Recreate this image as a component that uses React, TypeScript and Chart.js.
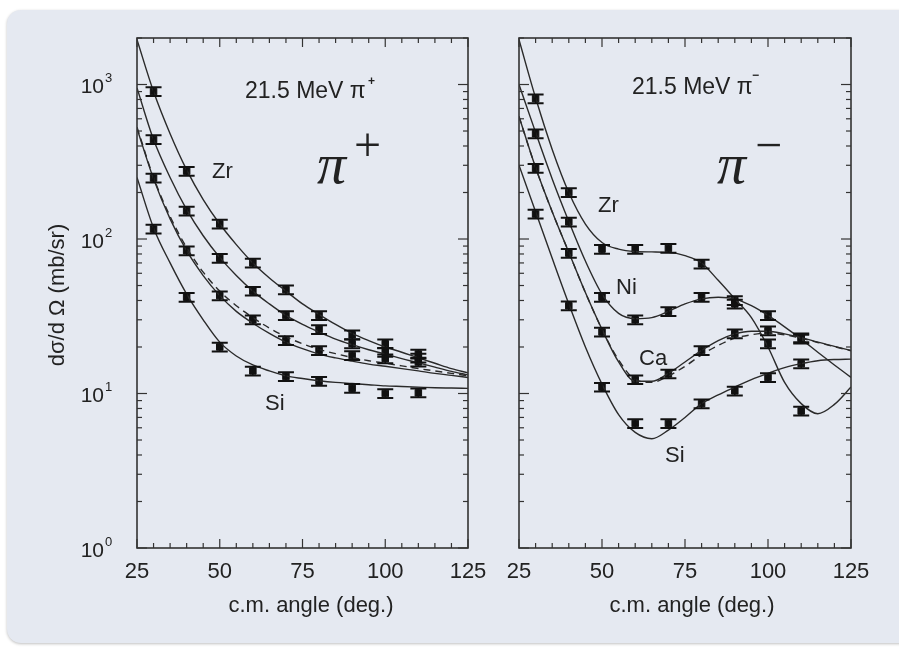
import { useEffect, useRef } from "react";
import { Chart, registerables } from "chart.js";

Chart.register(...registerables);

// ---------- data ----------
const ANGLES = [30, 40, 50, 60, 70, 80, 90, 100, 110];
const FIT_ANGLES = [25, 30, 35, 40, 45, 50, 55, 60, 65, 70, 75, 80, 85, 90, 95, 100, 105, 110, 115, 120, 125];
const X_TICKS = [25, 50, 75, 100, 125];
const Y_DECADES = [1, 10, 100, 1000];
const Y_EXPONENTS = ["0", "1", "2", "3"];
const ERR_FRAC = 0.065;

// pi+ panel (measured cross sections, mb/sr)
const PP_ZR = [900, 275, 125, 70, 47, 32, 24, 21, 18];
const PP_NI = [440, 152, 75, 46, 32, 26, 21, 18.5, 17];
const PP_CA = [248, 84, 43, 30, 22, 19, 17.6, 16.8, 16];
const PP_SI = [116, 42, 20, 14, 12.9, 12, 10.8, 10, 10.1];
// pi+ model curves
const PP_ZR_FIT = [1950, 900, 480, 280, 180, 125, 92, 70, 56, 46, 38, 32.5, 28, 24.5, 22, 20, 18.5, 17, 15.7, 14.5, 13.6];
const PP_NI_FIT = [950, 440, 250, 155, 105, 76, 58, 46, 38, 32, 28, 25, 22.5, 20.7, 19.2, 18, 16.8, 15.8, 14.8, 13.9, 13.2];
const PP_CA_FIT = [520, 245, 135, 84, 58, 43, 34, 28.5, 24.5, 21.5, 19.5, 18, 17, 16.2, 15.5, 15, 14.5, 14, 13.5, 13.1, 12.7];
const PP_CA_DASH = [530, 250, 140, 88, 61, 46, 37, 31, 26.5, 23.3, 21, 19.3, 18.1, 17.1, 16.3, 15.7, 15.1, 14.5, 14, 13.5, 13];
const PP_SI_FIT = [250, 118, 70, 44, 30, 21.5, 17.5, 15.3, 14, 13, 12.5, 12.1, 11.8, 11.6, 11.4, 11.2, 11.1, 11, 10.9, 10.85, 10.8];

// pi- panel
const PM_ZR = [810, 200, 86, 86, 87, 69, 38, 21, 7.7];
const PM_NI = [480, 129, 42, 30, 34, 42, 40, 32, 23];
const PM_CA = [287, 81, 25, 12.3, 13.4, 19, 24.4, 25.5, 22.5];
const PM_SI = [145, 37, 11, 6.4, 6.4, 8.6, 10.4, 12.7, 15.6];
const PM_ZR_FIT = [1950, 820, 380, 200, 125, 95, 86, 83, 82.5, 82, 78, 70, 54, 41, 31, 20, 11.8, 8.6, 7.4, 8.5, 11];
const PM_NI_FIT = [1000, 490, 245, 130, 72, 44, 33, 30.5, 31, 34, 38, 41, 42, 41, 37, 32, 27, 22.5, 18.5, 15.3, 12.7];
const PM_CA_FIT = [620, 290, 150, 82, 45, 26, 16, 12, 12, 13.5, 16, 19, 22, 24.3, 25.3, 25.3, 24.3, 23, 21.5, 20.2, 19];
const PM_CA_DASH = [620, 290, 150, 82, 45, 26, 16.5, 12.3, 11.8, 13, 15, 17.8, 20.5, 22.8, 24, 24.6, 24, 22.8, 21.4, 20.1, 18.9];
const PM_SI_FIT = [300, 150, 75, 38, 20, 11.5, 7.3, 5.6, 5.1, 5.8, 7, 8.6, 9.8, 11, 12.3, 13.5, 14.7, 15.6, 16.3, 16.6, 16.7];

const X_TITLE = "c.m. angle (deg.)";
const Y_TITLE = "dσ/d Ω (mb/sr)";

// ---------- styling ----------
const SANS = "'Liberation Sans', Arial, Helvetica, sans-serif";
const SERIF = "'Liberation Serif', 'Times New Roman', serif";
const INK = "#222";
const LINE = "#2a2a2a";

type Label = { text: string; x: number; y: number; font: string; align?: CanvasTextAlign };

function fitDataset(vals: number[], dashed = false) {
  return {
    data: FIT_ANGLES.map((x, i) => ({ x, y: vals[i] })),
    borderColor: LINE,
    borderWidth: 1.4,
    borderDash: dashed ? [7, 5] : [],
    pointRadius: 0,
    cubicInterpolationMode: "monotone" as const,
    fill: false,
  };
}

function pointDataset(vals: number[]) {
  return {
    data: ANGLES.map((x, i) => ({ x, y: vals[i] })),
    showLine: false,
    pointStyle: "rect" as const,
    pointRadius: 4.6,
    backgroundColor: "#111",
    borderColor: "#111",
    borderWidth: 1,
  };
}

function panelPlugin(points: number[][], labels: Label[], showY: boolean, xTitleX: number) {
  return {
    id: "panel",
    afterDatasetsDraw(chart: any) {
      const { ctx, scales } = chart;
      const xs = scales.x;
      const ys = scales.y;
      ctx.save();
      ctx.strokeStyle = "#111";
      for (const series of points) {
        series.forEach((v, i) => {
          const px = xs.getPixelForValue(ANGLES[i]);
          const top = ys.getPixelForValue(v * (1 + ERR_FRAC));
          const bot = ys.getPixelForValue(v * (1 - ERR_FRAC));
          ctx.lineWidth = 1.5;
          ctx.beginPath();
          ctx.moveTo(px, top);
          ctx.lineTo(px, bot);
          ctx.stroke();
          ctx.lineWidth = 2;
          ctx.beginPath();
          ctx.moveTo(px - 8, top);
          ctx.lineTo(px + 8, top);
          ctx.moveTo(px - 8, bot);
          ctx.lineTo(px + 8, bot);
          ctx.stroke();
        });
      }
      ctx.restore();
    },
    afterDraw(chart: any) {
      const { ctx, chartArea: a, scales } = chart;
      const xs = scales.x;
      const ys = scales.y;
      ctx.save();
      ctx.strokeStyle = "#333";
      ctx.lineWidth = 1.6;
      ctx.strokeRect(a.left, a.top, a.right - a.left, a.bottom - a.top);
      ctx.lineWidth = 1.2;
      const seg = (x1: number, y1: number, x2: number, y2: number) => {
        ctx.beginPath();
        ctx.moveTo(x1, y1);
        ctx.lineTo(x2, y2);
        ctx.stroke();
      };
      for (let v = xs.min; v <= xs.max; v += 5) {
        const px = xs.getPixelForValue(v);
        const len = X_TICKS.includes(v) ? 9 : 5;
        seg(px, a.bottom, px, a.bottom - len);
        seg(px, a.top, px, a.top + len);
      }
      for (const dec of Y_DECADES) {
        for (let m = 1; m <= 9; m++) {
          const v = m * dec;
          if (v > ys.max) break;
          const py = ys.getPixelForValue(v);
          const len = m === 1 ? 10 : 5;
          seg(a.left, py, a.left + len, py);
          seg(a.right, py, a.right - len, py);
        }
      }
      ctx.fillStyle = INK;
      ctx.textBaseline = "middle";
      ctx.textAlign = "center";
      ctx.font = `22px ${SANS}`;
      for (const t of X_TICKS) ctx.fillText(String(t), xs.getPixelForValue(t), 572);
      ctx.font = `22px ${SANS}`;
      ctx.fillText(X_TITLE, xTitleX, 606);
      if (showY) {
        Y_DECADES.forEach((d, i) => {
          const py = ys.getPixelForValue(d);
          ctx.textAlign = "right";
          ctx.font = `21px ${SANS}`;
          ctx.fillText("10", 104, py + 3);
          ctx.textAlign = "left";
          ctx.font = `13px ${SANS}`;
          ctx.fillText(Y_EXPONENTS[i], 105, py - 6);
        });
        ctx.save();
        ctx.translate(58, 295);
        ctx.rotate(-Math.PI / 2);
        ctx.textAlign = "center";
        ctx.font = `22px ${SANS}`;
        ctx.fillText(Y_TITLE, 0, 0);
        ctx.restore();
      }
      for (const l of labels) {
        ctx.font = l.font;
        ctx.textAlign = l.align || "left";
        ctx.fillText(l.text, l.x, l.y);
      }
      ctx.restore();
    },
  };
}

function makeConfig(fits: any[], points: number[][], padding: any, labels: Label[], showY: boolean, xTitleX: number): any {
  return {
    type: "line",
    data: { datasets: [...fits, ...points.map((p) => pointDataset(p))] },
    options: {
      responsive: false,
      animation: false,
      devicePixelRatio: 1,
      events: [],
      layout: { padding },
      plugins: { legend: { display: false }, tooltip: { enabled: false }, title: { display: false } },
      scales: {
        x: { type: "linear", min: 25, max: 125, display: false },
        y: { type: "logarithmic", min: 1, max: 2000, display: false },
      },
    },
    plugins: [panelPlugin(points, labels, showY, xTitleX)],
  };
}

const LEFT_LABELS: Label[] = [
  { text: "21.5 MeV π", x: 245, y: 92, font: `23px ${SANS}` },
  { text: "+", x: 368, y: 82, font: `bold 12px ${SANS}` },
  { text: "π", x: 317, y: 168, font: `italic 58px ${SERIF}` },
  { text: "+", x: 354, y: 148, font: `48px ${SERIF}` },
  { text: "Zr", x: 212, y: 172, font: `22px ${SANS}` },
  { text: "Si", x: 265, y: 404, font: `22px ${SANS}` },
];

const RIGHT_LABELS: Label[] = [
  { text: "21.5 MeV π", x: 142, y: 88, font: `23px ${SANS}` },
  { text: "−", x: 262, y: 76, font: `bold 12px ${SANS}` },
  { text: "π", x: 227, y: 168, font: `italic 58px ${SERIF}` },
  { text: "−", x: 265, y: 148, font: `48px ${SERIF}` },
  { text: "Zr", x: 108, y: 206, font: `22px ${SANS}` },
  { text: "Ni", x: 126, y: 288, font: `22px ${SANS}` },
  { text: "Ca", x: 149, y: 359, font: `22px ${SANS}` },
  { text: "Si", x: 175, y: 456, font: `22px ${SANS}` },
];

export default function App() {
  const c1 = useRef<HTMLCanvasElement>(null);
  const c2 = useRef<HTMLCanvasElement>(null);

  useEffect(() => {
    const left = new Chart(
      c1.current!,
      makeConfig(
        [fitDataset(PP_ZR_FIT), fitDataset(PP_NI_FIT), fitDataset(PP_CA_FIT), fitDataset(PP_CA_DASH, true), fitDataset(PP_SI_FIT)],
        [PP_ZR, PP_NI, PP_CA, PP_SI],
        { left: 137, top: 38, right: 22, bottom: 102 },
        LEFT_LABELS,
        true,
        311
      )
    );
    const right = new Chart(
      c2.current!,
      makeConfig(
        [fitDataset(PM_ZR_FIT), fitDataset(PM_NI_FIT), fitDataset(PM_CA_FIT), fitDataset(PM_CA_DASH, true), fitDataset(PM_SI_FIT)],
        [PM_ZR, PM_NI, PM_CA, PM_SI],
        { left: 29, top: 38, right: 48, bottom: 102 },
        RIGHT_LABELS,
        false,
        202
      )
    );
    return () => {
      left.destroy();
      right.destroy();
    };
  }, []);

  return (
    <div style={{ position: "absolute", left: 0, top: 0, width: 899, height: 650, overflow: "hidden", background: "#fff" }}>
      <div
        style={{
          position: "absolute",
          left: 7,
          top: 10,
          width: 910,
          height: 633,
          borderRadius: 14,
          background: "#e5e9f1",
          boxShadow: "0 1px 3px rgba(0,0,0,0.25)",
        }}
      />
      <canvas ref={c1} width={490} height={650} style={{ position: "absolute", left: 0, top: 0 }} />
      <canvas ref={c2} width={409} height={650} style={{ position: "absolute", left: 490, top: 0 }} />
    </div>
  );
}
